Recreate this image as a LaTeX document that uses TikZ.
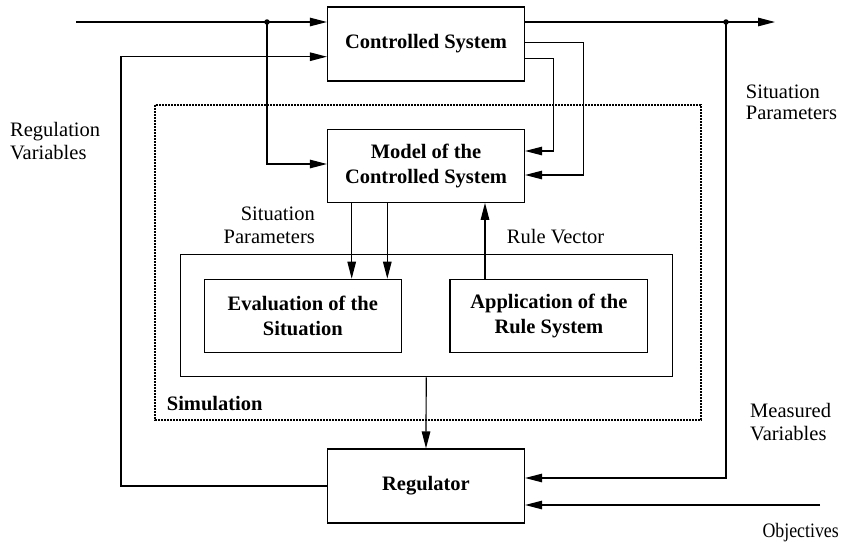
\documentclass[tikz,border=0pt]{standalone}
\usepackage{fontspec}
\usepackage{graphicx}
\setmainfont{Liberation Serif}
\usetikzlibrary{arrows.meta,calc}
\begin{document}
\begin{tikzpicture}[x=1pt,y=-1pt,
  box/.style={draw, line width=1.2pt, minimum width=197pt, minimum height=74pt, inner sep=0pt, align=center, font=\fontsize{20.5}{25}\selectfont\bfseries},
  conn/.style={line width=1.2pt},
  arr/.style={conn, -{Triangle[length=17pt,width=8.5pt]}},
  lbl/.style={inner sep=0pt, font=\fontsize{20.5}{23}\selectfont},
  dotbox/.style={line width=1.6pt, dash pattern=on 1.6pt off 1.4pt},
  jdot/.style={circle, fill, inner sep=0pt, minimum size=5.5pt}
]
\useasboundingbox (0,0) rectangle (841,542);

% boxes
\node[box] (cs) at (426,44) {Controlled System};
\node[box, minimum height=73pt] (model) at (426,165.7) {Model of the\\Controlled System};
\draw[dotbox] (155,105) rectangle (701,420);
\node[draw, line width=1.2pt, minimum width=492pt, minimum height=122pt, inner sep=0pt] (inner) at (426.2,315.8) {};
\node[box, minimum height=73.4pt] (eval) at (302.8,316) {Evaluation of the\\Situation};
\node[box, minimum height=73.4pt, minimum width=197.7pt] (app) at (548.9,316) {Application of the\\Rule System};
\node[box] (reg) at (426,486) {Regulator};

% coordinates
\coordinate (in1) at (76,22);
\node[jdot] (j1) at (267,22) {};
\coordinate (lc) at (121,56.7);
\coordinate (out) at (775,22);
\node[jdot] (j2) at (726,22) {};
\coordinate (o2) at (583.3,42.3);
\coordinate (o3) at (553.3,58.3);
\coordinate (ob) at (820,505);

% input lines
\draw[arr] (in1) -- (in1 -| cs.west);
\draw[arr] (j1.center) |- (model.west |- 0,164);
\draw[arr] (reg.west) -| (lc) -- (lc -| cs.west);

% outputs
\draw[arr] (out -| cs.east) -- (out);
\draw[arr] (j2.center) |- (reg.east |- 0,478);
\draw[arr] (o2 -| cs.east) -- (o2) |- (model.east |- 0,175);
\draw[arr] (o3 -| cs.east) -- (o3) |- (model.east |- 0,151);

% model <-> simulation
\draw[arr] (model.south -| 351.7,0) -- (eval.north -| 351.7,0);
\draw[arr] (model.south -| 387.3,0) -- (eval.north -| 387.3,0);
\draw[arr] (app.north -| 485,0) -- (model.south -| 485,0);
\draw[arr] (inner.south) -- (reg.north);

% objectives
\draw[arr] (ob) -- (ob -| reg.east);

% labels
\node[lbl, anchor=west, align=left, font=\fontsize{20.5}{21.6}\selectfont] (l1) at (745.7,102.5) {Situation\\Parameters};
\node[lbl, anchor=west, align=left] (l2) at (10,141.5) {Regulation\\Variables};
\node[lbl, anchor=east, align=right] (l3) at (315,225) {Situation\\Parameters};
\node[lbl, anchor=west] (l4) at (506.7,236.7) {Rule Vector};
\node[lbl, anchor=west, font=\fontsize{20.5}{23}\selectfont\bfseries] (l5) at (166.7,403.3) {Simulation};
\node[lbl, anchor=west, align=left] (l6) at (750,422) {Measured\\Variables};
\node[lbl, anchor=east] (l7) at (839,533) {\scalebox{0.87}[1]{Objectives}};
\end{tikzpicture}
\end{document}
